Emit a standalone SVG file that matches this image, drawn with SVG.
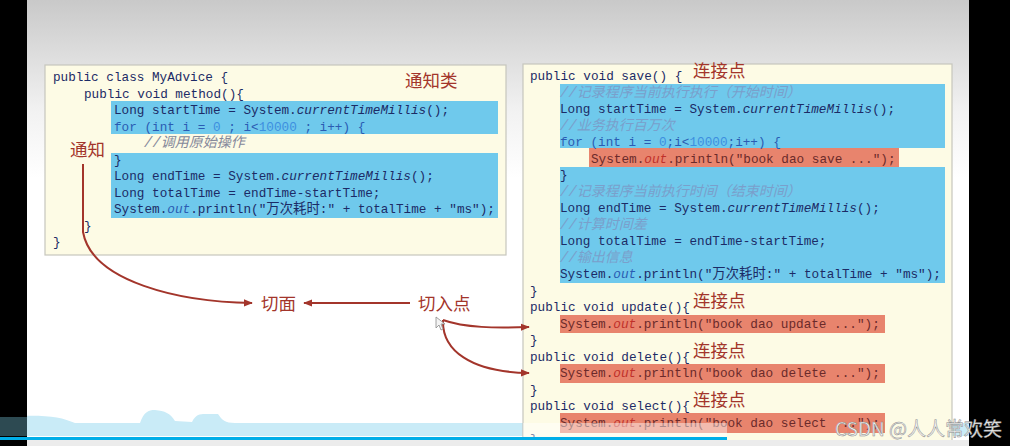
<svg xmlns="http://www.w3.org/2000/svg" width="1010" height="446" viewBox="0 0 1010 446">
<defs>
<linearGradient id="bg" x1="0" y1="0" x2="0" y2="1">
<stop offset="0" stop-color="#c9c9c9"/>
<stop offset="0.25" stop-color="#f2f2f2"/>
<stop offset="0.4" stop-color="#ffffff"/>
<stop offset="1" stop-color="#ffffff"/>
</linearGradient>
<marker id="ah" viewBox="0 0 10 10" refX="9" refY="5" markerWidth="9" markerHeight="9" markerUnits="userSpaceOnUse" orient="auto">
<path d="M0,1 L10,5 L0,9 Z" fill="#a3352b"/>
</marker>
<style>
.code{font-family:"Liberation Mono","Noto Sans CJK SC",monospace;font-size:12.7px;fill:#1c2b66}
.it{font-style:italic}
.blue{fill:#2a5cb3}
.num{fill:#3d8fe0}
.cj{font-size:13.4px}
.cm{font-family:"Liberation Mono","Noto Sans CJK SC",monospace;font-size:14px;font-style:italic;fill:#7a9fcb}
.cmg{font-family:"Liberation Mono","Noto Sans CJK SC",monospace;font-size:14px;font-style:italic;fill:#85889a}
.rtxt{fill:#6b2a2a}
.rout{fill:#c0302a;font-style:italic}
.lbl{font-family:"Noto Sans CJK SC","Liberation Sans",sans-serif;font-size:17.5px;fill:#a3352b}
.box{fill:#fdfbe5;stroke:#c6c6bd;stroke-width:1.2}
.hb{fill:#6fc9ec}
.hr{fill:#e8846d}
.conn{fill:none;stroke:#a3352b;stroke-width:2;marker-end:url(#ah)}
</style>
</defs>
<rect x="0" y="0" width="1010" height="446" fill="url(#bg)"/>
<path d="M0 417 C40 414 60 416 75 423 L140 423 C144 412 148 410 155 410 C165 411 170 413 175 421 L192 422 C196 414 200 414 205 414 L218 414 C222 420 225 423 235 423 L969 423 L969 436 L0 436 Z" fill="#c9ebf7"/>
<g id="left-box" xml:space="preserve">
<rect class="box" x="45" y="65" width="461" height="190"/>
<rect class="hb" x="111" y="101" width="387" height="33"/>
<rect class="hb" x="111" y="153" width="387" height="65"/>
<text class="code" x="53" y="81">public class MyAdvice {</text>
<text class="code" x="84" y="97.5">public void method(){</text>
<text class="code" x="114" y="114">Long startTime = System.<tspan class="it">currentTimeMillis</tspan>();</text>
<text class="code blue" x="114" y="130.5">for (int i = <tspan class="num">0</tspan> ; i&lt;<tspan class="num">10000</tspan> ; i++) {</text>
<text class="cmg" x="144" y="147">//调用原始操作</text>
<text class="code" x="114" y="163.5">}</text>
<text class="code" x="114" y="180">Long endTime = System.<tspan class="it">currentTimeMillis</tspan>();</text>
<text class="code" x="114" y="196.5">Long totalTime = endTime-startTime;</text>
<text class="code" x="114" y="213">System.<tspan class="it" fill="#2a5cb3">out</tspan>.println("<tspan class="cj">万次耗时</tspan>:" + totalTime + "ms");</text>
<text class="code" x="84" y="229.5">}</text>
<text class="code" x="53" y="246">}</text>
</g>
<g id="right-box" xml:space="preserve">
<rect class="box" x="523" y="64" width="429" height="400"/>
<rect class="hb" x="560" y="84" width="385" height="64"/>
<rect class="hb" x="560" y="167" width="385" height="116"/>
<rect class="hr" x="589" y="148" width="310" height="19"/>
<rect class="hr" x="560" y="315" width="325" height="18"/>
<rect class="hr" x="560" y="364" width="325" height="19"/>
<rect class="hr" x="560" y="413" width="325" height="20"/>
<text class="code" x="530" y="80">public void save() {</text>
<text class="cm" x="560" y="96.5">//记录程序当前执行执行（开始时间）</text>
<text class="code" x="560" y="113">Long startTime = System.<tspan class="it">currentTimeMillis</tspan>();</text>
<text class="cm" x="560" y="129.5">//业务执行百万次</text>
<text class="code blue" x="560" y="146">for (int i = <tspan class="num">0</tspan>;i&lt;<tspan class="num">10000</tspan>;i++) {</text>
<text class="code rtxt" x="591" y="162.5">System.<tspan class="rout">out</tspan>.println("book dao save ...");</text>
<text class="code" x="560" y="179">}</text>
<text class="cm" x="560" y="195.5">//记录程序当前执行时间（结束时间）</text>
<text class="code" x="560" y="212">Long endTime = System.<tspan class="it">currentTimeMillis</tspan>();</text>
<text class="cm" x="560" y="228.5">//计算时间差</text>
<text class="code" x="560" y="245">Long totalTime = endTime-startTime;</text>
<text class="cm" x="560" y="261.5">//输出信息</text>
<text class="code" x="560" y="278">System.<tspan class="it" fill="#2a5cb3">out</tspan>.println("<tspan class="cj">万次耗时</tspan>:" + totalTime + "ms");</text>
<text class="code" x="530" y="294.5">}</text>
<text class="code" x="530" y="311">public void update(){</text>
<text class="code rtxt" x="560" y="327.5">System.<tspan class="rout">out</tspan>.println("book dao update ...");</text>
<text class="code" x="530" y="344">}</text>
<text class="code" x="530" y="360.5">public void delete(){</text>
<text class="code rtxt" x="560" y="377">System.<tspan class="rout">out</tspan>.println("book dao delete ...");</text>
<text class="code" x="530" y="393.5">}</text>
<text class="code" x="530" y="410">public void select(){</text>
<text class="code rtxt" x="560" y="426.5">System.<tspan class="rout">out</tspan>.println("book dao select ...");</text>
<text class="code" x="530" y="443">}</text>
</g>
<g id="label-advice-class"><text class="lbl" x="405" y="87">通知类</text></g>
<g id="label-advice"><text class="lbl" x="70" y="156">通知</text></g>
<g id="label-aspect"><text class="lbl" x="261" y="310">切面</text></g>
<g id="label-pointcut"><text class="lbl" x="418" y="310">切入点</text></g>
<g id="label-jp-save"><text class="lbl" x="693" y="77">连接点</text></g>
<g id="label-jp-update"><text class="lbl" x="693" y="307">连接点</text></g>
<g id="label-jp-delete"><text class="lbl" x="693" y="357">连接点</text></g>
<g id="label-jp-select"><text class="lbl" x="693" y="406">连接点</text></g>
<g id="connectors">
<path class="conn" d="M83 164 L83 232 C92 282 180 302 252 303"/>
<path class="conn" d="M410 303 L304 303"/>
<path class="conn" d="M443 320 C465 328 495 328 529 327"/>
<path class="conn" d="M443 320 C442 350 470 372 529 373"/>
</g>
<polygon points="436,317 436,328 439,325 441,330 443,329 441,324 445,324" fill="#f4f4f4" stroke="#8a8a8a" stroke-width="0.8"/>
<rect x="523" y="423" width="204" height="14" fill="#ffffff" opacity="0.45"/>
<rect x="0" y="0" width="27" height="446" fill="#000"/>
<rect x="0" y="417" width="27" height="19" fill="#2d4a52"/>
<rect x="969" y="0" width="41" height="446" fill="#000"/>
<rect x="0" y="437" width="727" height="3" fill="#00aee8"/>
<rect x="27" y="440" width="942" height="6" fill="#ececec"/>
<text x="835" y="436" font-family="Noto Sans CJK SC,Liberation Sans,sans-serif" font-size="19" fill="#f2f2f2" stroke="#8a8a8a" stroke-width="0.5">CSDN @人人常欢笑</text>
</svg>
